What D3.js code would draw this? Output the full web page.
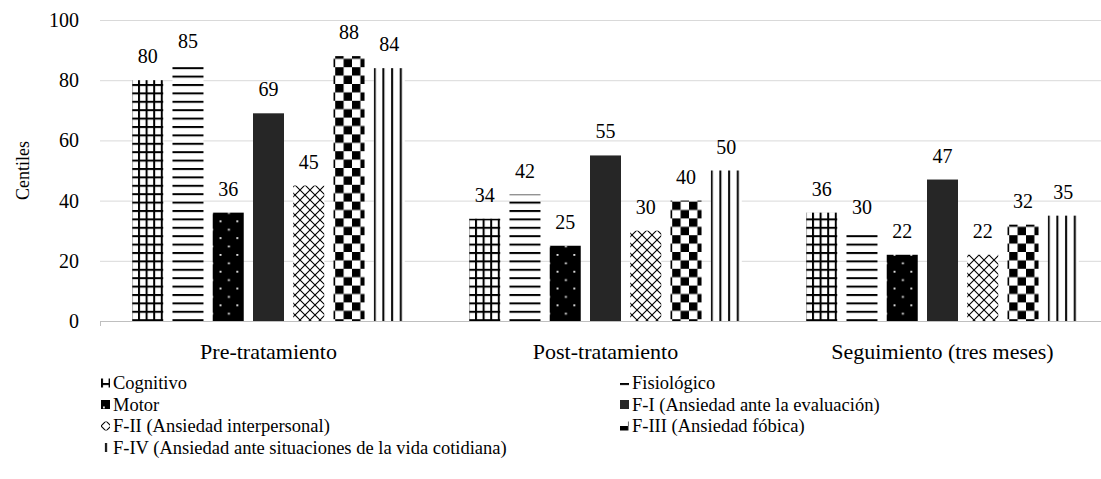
<!DOCTYPE html>
<html>
<head>
<meta charset="utf-8">
<script src="https://cdn.jsdelivr.net/npm/d3@7"></script>
<style>
  body { margin: 0; background: #fff; }
</style>
</head>
<body>
<svg class="chart" width="1101" height="479"></svg>
<script>
const WIDTH = 1101;
const HEIGHT = 479;
const FONT = "Liberation Serif, DejaVu Serif, serif";

const categories = ['Pre-tratamiento', 'Post-tratamiento', 'Seguimiento (tres meses)'];
const seriesNames = [
  'Cognitivo',
  'Fisiológico',
  'Motor',
  'F-I (Ansiedad ante la evaluación)',
  'F-II (Ansiedad interpersonal)',
  'F-III (Ansiedad fóbica)',
  'F-IV (Ansiedad ante situaciones de la vida cotidiana)',
];
const cognitivo = [80, 34, 36];
const fisiologico = [85, 42, 30];
const motor = [36, 25, 22];
const fI = [69, 55, 47];
const fII = [45, 30, 22];
const fIII = [88, 40, 32];
const fIV = [84, 50, 35];
const yTicks = [0, 20, 40, 60, 80, 100];

const seriesValues = [cognitivo, fisiologico, motor, fI, fII, fIII, fIV];
const patternIds = ['p-grid', 'p-hlines', 'p-dots', 'p-solid', 'p-cross', 'p-check', 'p-vlines'];

const svg = d3.select('.chart').attr('font-family', FONT);

// patterns
const defs = svg.append('defs');
const U = 8.4;

const grid = defs.append('pattern').attr('id', 'p-grid').attr('patternUnits', 'userSpaceOnUse')
  .attr('width', 7.6).attr('height', U);
grid.append('rect').attr('width', 7.6).attr('height', U).attr('fill', '#fff');
grid.append('rect').attr('x', 0).attr('y', 0).attr('width', 2).attr('height', U).attr('fill', '#000');
grid.append('rect').attr('x', 0).attr('y', 0).attr('width', 7.6).attr('height', 2).attr('fill', '#000');

const hl = defs.append('pattern').attr('id', 'p-hlines').attr('patternUnits', 'userSpaceOnUse')
  .attr('width', 8).attr('height', U);
hl.append('rect').attr('width', 8).attr('height', U).attr('fill', '#fff');
hl.append('rect').attr('y', 0).attr('width', 8).attr('height', 2).attr('fill', '#000');

const dots = defs.append('pattern').attr('id', 'p-dots').attr('patternUnits', 'userSpaceOnUse')
  .attr('width', 2 * U).attr('height', 2 * U);
dots.append('rect').attr('width', 2 * U).attr('height', 2 * U).attr('fill', '#000');
dots.append('rect').attr('x', 2).attr('y', 2).attr('width', 1.8).attr('height', 1.8).attr('fill', '#fff');
dots.append('rect').attr('x', 2 + U).attr('y', 2 + U).attr('width', 1.8).attr('height', 1.8).attr('fill', '#fff');

const solid = defs.append('pattern').attr('id', 'p-solid').attr('patternUnits', 'userSpaceOnUse')
  .attr('width', 8).attr('height', 8);
solid.append('rect').attr('width', 8).attr('height', 8).attr('fill', '#262626');

const C = 10;
const cross = defs.append('pattern').attr('id', 'p-cross').attr('patternUnits', 'userSpaceOnUse')
  .attr('width', C).attr('height', C);
cross.append('rect').attr('width', C).attr('height', C).attr('fill', '#fff');
cross.append('path').attr('d', `M0,0L${C},${C}M0,${C}L${C},0`)
  .attr('stroke', '#000').attr('stroke-width', 1.1).attr('fill', 'none');

const check = defs.append('pattern').attr('id', 'p-check').attr('patternUnits', 'userSpaceOnUse')
  .attr('width', 2 * U).attr('height', 2 * U);
check.append('rect').attr('width', 2 * U).attr('height', 2 * U).attr('fill', '#fff');
check.append('rect').attr('width', U).attr('height', U).attr('fill', '#000');
check.append('rect').attr('x', U).attr('y', U).attr('width', U).attr('height', U).attr('fill', '#000');

const vl = defs.append('pattern').attr('id', 'p-vlines').attr('patternUnits', 'userSpaceOnUse')
  .attr('width', 8.7).attr('height', 8);
vl.append('rect').attr('width', 8.7).attr('height', 8).attr('fill', '#fff');
vl.append('rect').attr('x', 4).attr('width', 2).attr('height', 8).attr('fill', '#000');

// scales
const x0 = d3.scaleBand().domain(categories).range([100, 1111]);
const x1 = d3.scaleBand().domain(seriesNames).range([0, x0.bandwidth()])
  .paddingInner(0.23).paddingOuter(0.8);
const y = d3.scaleLinear().domain([0, 100]).range([321, 20]);

// gridlines
svg.append('g').selectAll('line').data(yTicks.slice(1)).enter()
  .append('line')
  .attr('x1', 100).attr('x2', 1111)
  .attr('y1', (d) => y(d) + 0.5).attr('y2', (d) => y(d) + 0.5)
  .attr('stroke', '#d9d9d9').attr('stroke-width', 1);

// x axis line
svg.append('line').attr('x1', 100).attr('x2', 1111)
  .attr('y1', y(0) + 0.5).attr('y2', y(0) + 0.5)
  .attr('stroke', '#bfbfbf').attr('stroke-width', 1);
svg.append('line').attr('x1', 100.5).attr('x2', 100.5)
  .attr('y1', y(0)).attr('y2', y(0) + 5)
  .attr('stroke', '#bfbfbf').attr('stroke-width', 1);

// y tick labels
svg.append('g').selectAll('text').data(yTicks).enter()
  .append('text')
  .attr('x', 79).attr('y', (d) => y(d))
  .attr('dy', '0.35em')
  .attr('text-anchor', 'end')
  .attr('font-size', 20)
  .text((d) => d);

// y axis title
svg.append('text')
  .attr('transform', `translate(29, ${(y(0) + y(100)) / 2}) rotate(-90)`)
  .attr('text-anchor', 'middle')
  .attr('font-size', 18)
  .text('Centiles');

// bars
const groups = svg.append('g').selectAll('g').data(categories).enter()
  .append('g')
  .attr('transform', (d) => `translate(${x0(d)}, 0)`);

groups.selectAll('rect')
  .data((d, i) => seriesNames.map((s, j) => ({ series: s, idx: j, value: seriesValues[j][i] })))
  .enter()
  .append('rect')
  .attr('x', (d) => x1(d.series))
  .attr('y', (d) => y(d.value))
  .attr('width', x1.bandwidth())
  .attr('height', (d) => y(0) - y(d.value))
  .attr('fill', (d) => `url(#${patternIds[d.idx]})`);

// value labels
groups.selectAll('text')
  .data((d, i) => seriesNames.map((s, j) => ({ series: s, value: seriesValues[j][i] })))
  .enter()
  .append('text')
  .attr('x', (d) => x1(d.series) + x1.bandwidth() / 2)
  .attr('y', (d) => y(d.value) - 17)
  .attr('text-anchor', 'middle')
  .attr('font-size', 20)
  .text((d) => d.value);

// category labels
svg.append('g').selectAll('text').data(categories).enter()
  .append('text')
  .attr('x', (d) => x0(d) + x0.bandwidth() / 2)
  .attr('y', 359)
  .attr('text-anchor', 'middle')
  .attr('font-size', 22)
  .text((d) => d);

// legend
const legend = svg.append('g').selectAll('g').data(seriesNames).enter()
  .append('g')
  .attr('transform', (d, i) => `translate(${i % 2 === 0 ? 101 : 620}, ${383 + Math.floor(i / 2) * 21.5})`);

legend.append('rect')
  .attr('x', 0).attr('y', -4.5)
  .attr('width', 9).attr('height', 9)
  .attr('fill', (d, i) => `url(#${patternIds[i]})`);

legend.append('text')
  .attr('x', 12)
  .attr('dy', '0.35em')
  .attr('font-size', 18.5)
  .text((d) => d);
</script>
</body>
</html>
